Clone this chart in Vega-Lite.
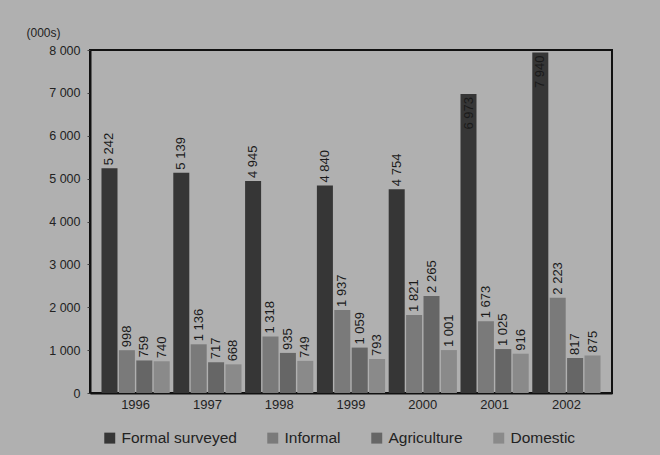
{
  "$schema": "https://vega.github.io/schema/vega-lite/v6.json",
  "width": 522,
  "height": 343,
  "autosize": {"type": "none"},
  "padding": {"left": 90, "top": 50, "right": 48, "bottom": 62},
  "background": "#b0b0b0",
  "config": {
    "locale": {"number": {"decimal": ".", "thousands": " ", "grouping": [3], "currency": ["", ""]}},
    "font": "Liberation Sans",
    "view": {"stroke": "#111", "strokeWidth": 2},
    "axis": {"labelColor": "#222", "titleColor": "#222", "domainColor": "#111", "tickColor": "#444"}
  },
  "data": {
    "values": [
      {"year": "1996", "type": "Formal surveyed", "value": 5242},
      {"year": "1996", "type": "Informal", "value": 998},
      {"year": "1996", "type": "Agriculture", "value": 759},
      {"year": "1996", "type": "Domestic", "value": 740},
      {"year": "1997", "type": "Formal surveyed", "value": 5139},
      {"year": "1997", "type": "Informal", "value": 1136},
      {"year": "1997", "type": "Agriculture", "value": 717},
      {"year": "1997", "type": "Domestic", "value": 668},
      {"year": "1998", "type": "Formal surveyed", "value": 4945},
      {"year": "1998", "type": "Informal", "value": 1318},
      {"year": "1998", "type": "Agriculture", "value": 935},
      {"year": "1998", "type": "Domestic", "value": 749},
      {"year": "1999", "type": "Formal surveyed", "value": 4840},
      {"year": "1999", "type": "Informal", "value": 1937},
      {"year": "1999", "type": "Agriculture", "value": 1059},
      {"year": "1999", "type": "Domestic", "value": 793},
      {"year": "2000", "type": "Formal surveyed", "value": 4754},
      {"year": "2000", "type": "Informal", "value": 1821},
      {"year": "2000", "type": "Agriculture", "value": 2265},
      {"year": "2000", "type": "Domestic", "value": 1001},
      {"year": "2001", "type": "Formal surveyed", "value": 6973},
      {"year": "2001", "type": "Informal", "value": 1673},
      {"year": "2001", "type": "Agriculture", "value": 1025},
      {"year": "2001", "type": "Domestic", "value": 916},
      {"year": "2002", "type": "Formal surveyed", "value": 7940},
      {"year": "2002", "type": "Informal", "value": 2223},
      {"year": "2002", "type": "Agriculture", "value": 817},
      {"year": "2002", "type": "Domestic", "value": 875}
    ]
  },
  "encoding": {
    "x": {
      "field": "year", "type": "nominal",
      "scale": {"paddingInner": 0.05, "paddingOuter": 0.16},
      "axis": {"title": null, "labelAngle": 0, "labelFontSize": 13, "ticks": false, "labelPadding": 5, "domainWidth": 2}
    },
    "xOffset": {
      "field": "type", "type": "nominal",
      "sort": ["Formal surveyed", "Informal", "Agriculture", "Domestic"],
      "scale": {"paddingInner": 0.08}
    },
    "y": {
      "field": "value", "type": "quantitative",
      "scale": {"domain": [0, 8000], "nice": false},
      "axis": {
        "title": "(000s)", "titleAngle": 0, "titleAlign": "right", "titleBaseline": "middle",
        "titleX": -30, "titleY": -18, "titleFontSize": 12, "titleFontWeight": "normal",
        "format": ",d", "values": [0, 1000, 2000, 3000, 4000, 5000, 6000, 7000, 8000],
        "labelFontSize": 12.5, "grid": false, "tickSize": 3, "domainWidth": 2, "labelPadding": 7
      }
    }
  },
  "layer": [
    {
      "mark": {"type": "bar"},
      "encoding": {
        "color": {
          "field": "type", "type": "nominal",
          "sort": ["Formal surveyed", "Informal", "Agriculture", "Domestic"],
          "scale": {"domain": ["Formal surveyed", "Informal", "Agriculture", "Domestic"], "range": ["#363636", "#7a7a7a", "#666666", "#8a8a8a"]},
          "legend": {
            "title": null, "orient": "none", "direction": "horizontal",
            "legendX": 12, "legendY": 380, "symbolType": "square", "symbolSize": 120,
            "labelFontSize": 15.5, "labelColor": "#222", "columnPadding": 28, "symbolStrokeWidth": 0
          }
        }
      }
    },
    {
      "transform": [{"filter": "datum.value < 6000"}],
      "mark": {"type": "text", "angle": 270, "align": "left", "baseline": "middle", "dx": 3, "fontSize": 13, "color": "#1a1a1a"},
      "encoding": {"text": {"field": "value", "type": "quantitative", "format": ",d"}}
    },
    {
      "transform": [{"filter": "datum.value >= 6000"}],
      "mark": {"type": "text", "angle": 270, "align": "right", "baseline": "middle", "dx": -3, "fontSize": 13, "color": "#1a1a1a"},
      "encoding": {"text": {"field": "value", "type": "quantitative", "format": ",d"}}
    }
  ]
}
